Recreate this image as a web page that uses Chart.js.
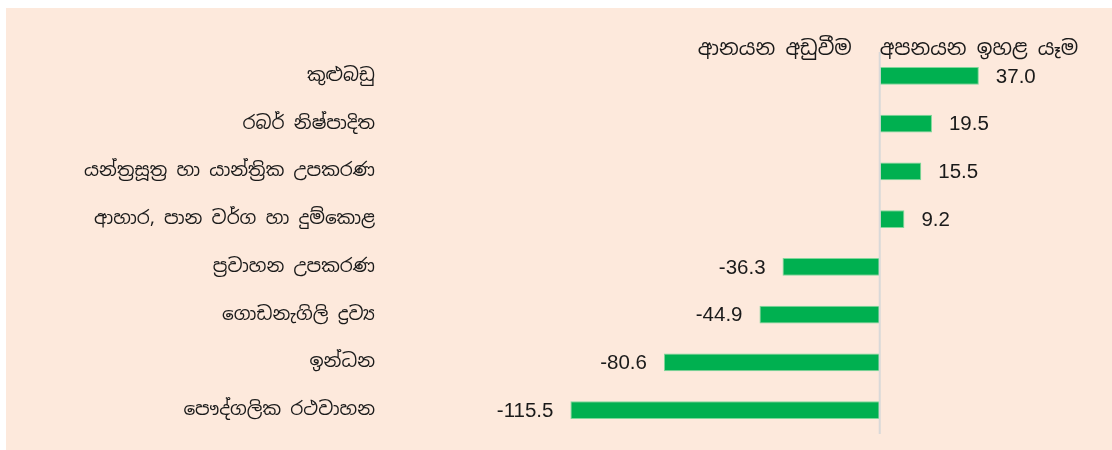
<!DOCTYPE html>
<html>
<head>
<meta charset="utf-8">
<script src="https://cdn.jsdelivr.net/npm/chart.js@4/dist/chart.umd.min.js"></script>
<style>
    html, body { margin: 0; padding: 0; background: #ffffff; }
    #wrap { position: absolute; left: 6px; top: 8px; width: 1106px; height: 442px; background: #fde9dc; }
    canvas { display: block; }
</style>
</head>
<body>
<div id="wrap"><canvas id="chart" width="1106" height="442"></canvas></div>
<script>
    const categories = [
        'කුළුබඩු',
        'රබර් නිෂ්පාදිත',
        'යන්ත්‍රසූත්‍ර හා යාන්ත්‍රික උපකරණ',
        'ආහාර, පාන වර්ග හා දුම්කොළ',
        'ප්‍රවාහන උපකරණ',
        'ගොඩනැගිලි ද්‍රව්‍ය',
        'ඉන්ධන',
        'පෞද්ගලික රථවාහන',
    ];
    const changes = [37.0, 19.5, 15.5, 9.2, -36.3, -44.9, -80.6, -115.5];
    const headerLeft = 'ආනයන අඩුවීම';
    const headerRight = 'අපනයන ඉහළ යෑම';

    const labelFont = '"Noto Sans Sinhala", "Iskoola Pota", "Noto Sans", sans-serif';
    const numFont = '"Liberation Sans", "Open Sans", sans-serif';

    // zero line, value labels, the two headers
    const extras = {
        id: 'extras',
        afterDatasetsDraw(chart) {
            const { ctx, chartArea } = chart;
            const x = chart.scales.x;
            const zero = x.getPixelForValue(0);
            ctx.save();
            ctx.strokeStyle = '#d9d9d9';
            ctx.lineWidth = 2;
            ctx.beginPath();
            ctx.moveTo(zero, chartArea.top);
            ctx.lineTo(zero, chartArea.bottom);
            ctx.stroke();

            ctx.fillStyle = '#1a1a1a';
            ctx.font = '20.5px ' + numFont;
            ctx.textBaseline = 'middle';
            chart.getDatasetMeta(0).data.forEach((bar, i) => {
                const v = changes[i];
                if (v >= 0) {
                    ctx.textAlign = 'left';
                    ctx.fillText(v.toFixed(1), bar.x + 17, bar.y + 1);
                } else {
                    ctx.textAlign = 'right';
                    ctx.fillText(v.toFixed(1), bar.x - 17, bar.y + 1);
                }
            });

            ctx.font = '20.5px ' + labelFont;
            ctx.textBaseline = 'alphabetic';
            ctx.textAlign = 'right';
            ctx.fillText(headerLeft, zero - 28, 47);
            ctx.textAlign = 'left';
            ctx.fillText(headerRight, zero, 47);
            ctx.restore();
        },
    };

    new Chart(document.getElementById('chart'), {
        type: 'bar',
        data: {
            labels: categories,
            datasets: [{
                data: changes,
                backgroundColor: '#00b050',
                borderColor: '#7fd89a',
                borderWidth: 1,
                borderSkipped: false,
                barPercentage: 0.75,
                categoryPercentage: 0.5,
            }],
        },
        options: {
            indexAxis: 'y',
            responsive: false,
            animation: false,
            layout: { padding: { top: 44, bottom: 16, right: 18, left: 0 } },
            plugins: {
                legend: { display: false },
                tooltip: { enabled: false },
            },
            scales: {
                x: {
                    min: -181,
                    max: 80,
                    display: false,
                },
                y: {
                    grid: { display: false },
                    border: { display: false },
                    ticks: {
                        color: '#1a1a1a',
                        font: { family: labelFont, size: 18.5 },
                        padding: 12,
                    },
                    afterFit(scale) {
                        scale.width = 389;
                        scale.paddingTop = 0;
                        scale.paddingBottom = 0;
                    },
                },
            },
        },
        plugins: [extras],
    });
</script>
</body>
</html>
